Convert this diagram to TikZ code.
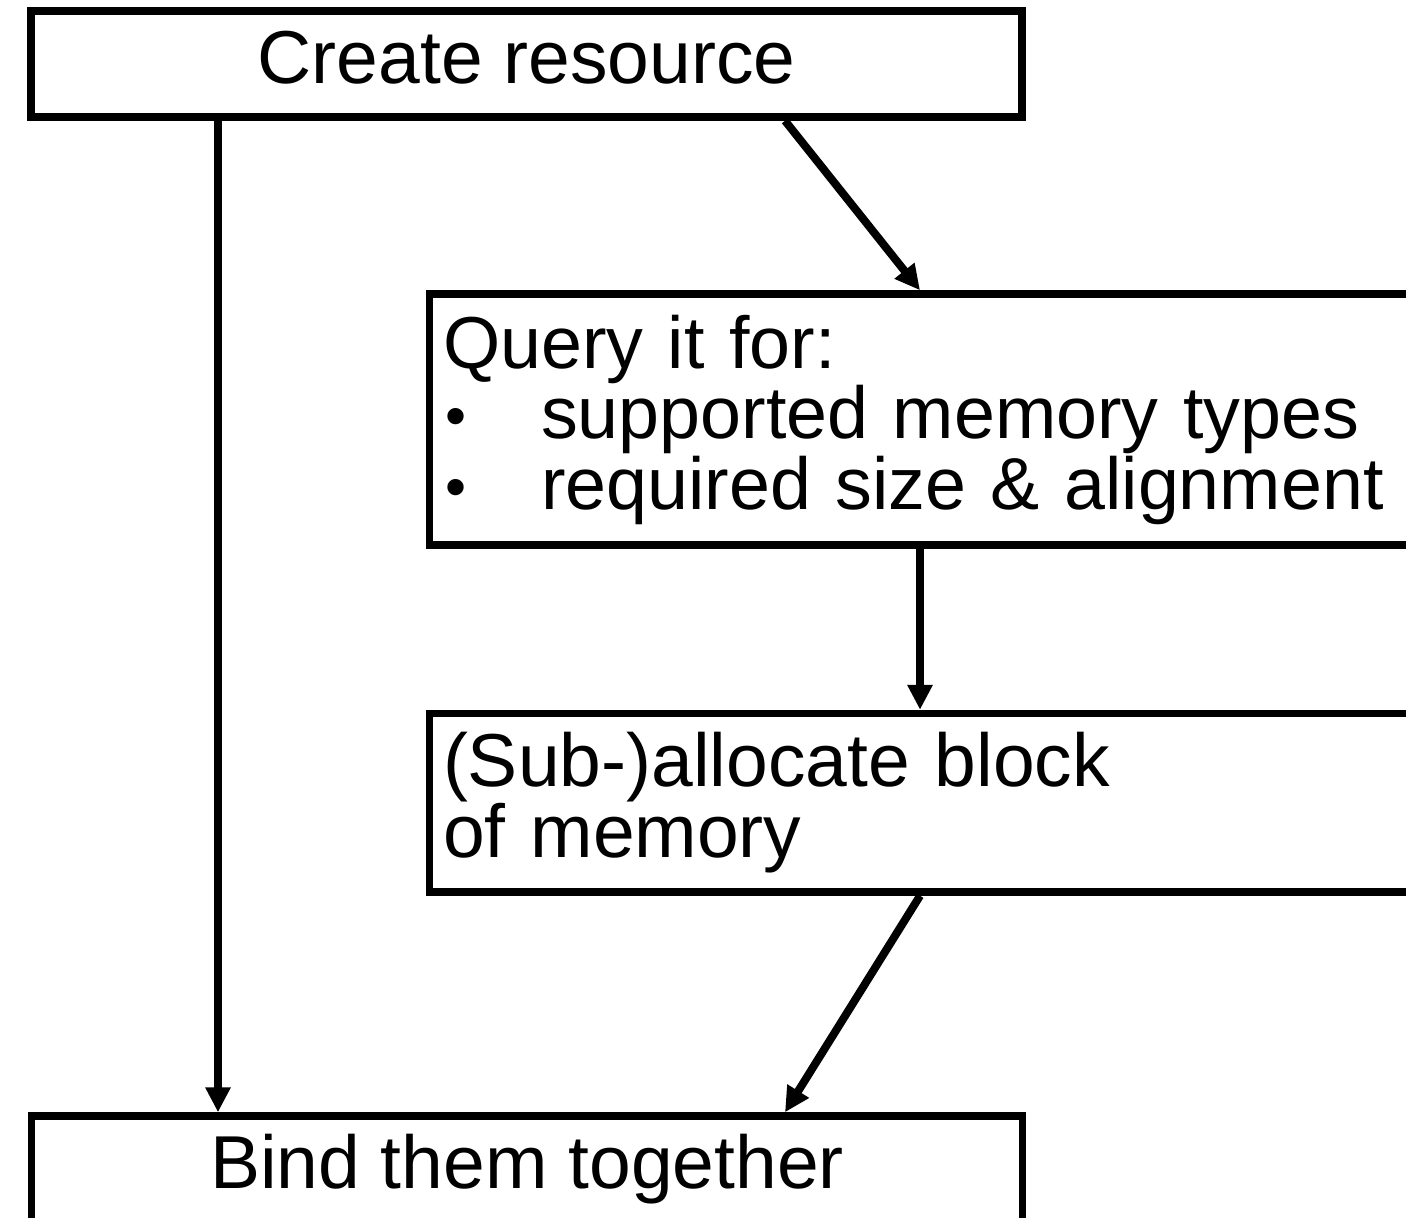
\documentclass[tikz,border=0pt]{standalone}
\usepackage{fontspec}
\setmainfont{Liberation Sans}
\usetikzlibrary{arrows.meta}
\newcommand\qbullet{\makebox[49pt][l]{\hspace{1.3pt}\raisebox{1pt}{\fontsize{30pt}{30pt}\selectfont •}}}
\begin{document}
\begin{tikzpicture}[x=0.5pt,y=-0.5pt,
  box/.style={draw,line width=3.75pt,inner sep=0pt,
    font=\fontsize{37.5pt}{35.25pt}\selectfont\setlength{\lineskiplimit}{-20pt}},
  onebox/.style={box,minimum width=495.5pt,minimum height=53pt,text height=27.3pt,text depth=7.9pt},
  listbox/.style={box,minimum width=500.25pt,inner xsep=6.75pt,text width=486.75pt,align=left},
  flow/.style={line width=4pt,-{Triangle[width=12pt,length=12.5pt]}}]
 \useasboundingbox (0,0) rectangle (1406,1217);
 \fill[white] (0,0) rectangle (1406,1217);
 \clip (0,0) rectangle (1406,1217);
 % boxes
 \node[onebox] (create) at (526.5,64) {Create resource};
 \node[listbox,minimum height=125.5pt,
   font=\fontsize{36.8pt}{35.25pt}\selectfont\setlength{\lineskiplimit}{-20pt}]
   (query) at (929.75,419.5) {Query it for:\\
   \qbullet supported memory types\\
   \qbullet required size \& alignment};
 \node[listbox,minimum height=89.25pt] (alloc) at (929.75,802.75) {(Sub-)allocate block\\ of memory};
 \node[onebox] (bind) at (527,1169) {Bind them together};
 % arrows
 \coordinate (xa) at (218,0);
 \coordinate (xb) at (785,0);
 \coordinate (xc) at (920,0);
 \draw[flow] (create.south -| xa) -- (bind.north -| xa);
 \draw[flow] (create.south -| xb) -- (query.north -| xc);
 \draw[flow] (query.south -| xc) -- (alloc.north -| xc);
 \draw[flow] (alloc.south -| xc) -- (bind.north -| xb);
\end{tikzpicture}
\end{document}
